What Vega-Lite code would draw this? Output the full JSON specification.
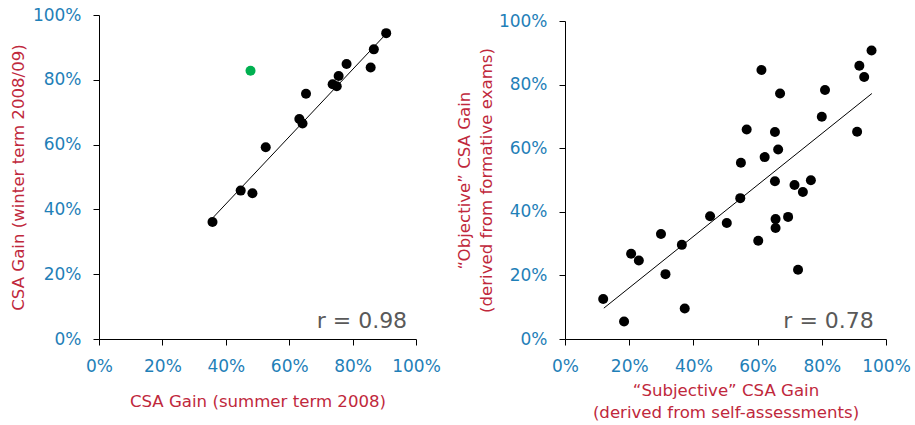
{
  "$schema": "https://vega.github.io/schema/vega-lite/v6.json",
  "padding": {"left": 10, "top": 6, "right": 0, "bottom": 5},
  "spacing": 15,
  "datasets": {
    "left": [
      {"x": 0.358, "y": 0.361, "group": "main"},
      {"x": 0.447, "y": 0.458, "group": "main"},
      {"x": 0.484, "y": 0.450, "group": "main"},
      {"x": 0.526, "y": 0.592, "group": "main"},
      {"x": 0.632, "y": 0.679, "group": "main"},
      {"x": 0.642, "y": 0.665, "group": "main"},
      {"x": 0.653, "y": 0.757, "group": "main"},
      {"x": 0.737, "y": 0.786, "group": "main"},
      {"x": 0.750, "y": 0.780, "group": "main"},
      {"x": 0.756, "y": 0.812, "group": "main"},
      {"x": 0.781, "y": 0.849, "group": "main"},
      {"x": 0.857, "y": 0.838, "group": "main"},
      {"x": 0.867, "y": 0.894, "group": "main"},
      {"x": 0.906, "y": 0.944, "group": "main"},
      {"x": 0.478, "y": 0.828, "group": "outlier"}
    ],
    "leftLine": [
      {"x": 0.360, "y": 0.375},
      {"x": 0.907, "y": 0.943}
    ],
    "right": [
      {"x": 0.119, "y": 0.126},
      {"x": 0.184, "y": 0.055},
      {"x": 0.206, "y": 0.268},
      {"x": 0.230, "y": 0.247},
      {"x": 0.299, "y": 0.330},
      {"x": 0.313, "y": 0.204},
      {"x": 0.364, "y": 0.296},
      {"x": 0.373, "y": 0.096},
      {"x": 0.452, "y": 0.386},
      {"x": 0.504, "y": 0.365},
      {"x": 0.546, "y": 0.443},
      {"x": 0.548, "y": 0.554},
      {"x": 0.566, "y": 0.659},
      {"x": 0.602, "y": 0.309},
      {"x": 0.612, "y": 0.846},
      {"x": 0.622, "y": 0.572},
      {"x": 0.654, "y": 0.651},
      {"x": 0.654, "y": 0.496},
      {"x": 0.656, "y": 0.377},
      {"x": 0.656, "y": 0.349},
      {"x": 0.664, "y": 0.596},
      {"x": 0.670, "y": 0.772},
      {"x": 0.695, "y": 0.384},
      {"x": 0.715, "y": 0.484},
      {"x": 0.726, "y": 0.218},
      {"x": 0.741, "y": 0.462},
      {"x": 0.766, "y": 0.499},
      {"x": 0.800, "y": 0.699},
      {"x": 0.810, "y": 0.783},
      {"x": 0.910, "y": 0.652},
      {"x": 0.917, "y": 0.859},
      {"x": 0.932, "y": 0.824},
      {"x": 0.955, "y": 0.907}
    ],
    "rightLine": [
      {"x": 0.121, "y": 0.097},
      {"x": 0.956, "y": 0.772}
    ]
  },
  "hconcat": [
    {
      "width": 317,
      "height": 324,
      "layer": [
        {
          "data": {"name": "left"},
          "mark": {"type": "circle", "size": 100, "opacity": 1},
          "encoding": {
            "x": {"field": "x", "type": "quantitative", "scale": {"domain": [0, 1]},
                  "axis": {"title": "CSA Gain (summer term 2008)", "format": ".0%", "values": [0, 0.2, 0.4, 0.6, 0.8, 1], "titlePadding": 19}},
            "y": {"field": "y", "type": "quantitative", "scale": {"domain": [0, 1]},
                  "axis": {"title": "CSA Gain (winter term 2008/09)", "format": ".0%", "values": [0, 0.2, 0.4, 0.6, 0.8, 1], "titlePadding": 6}},
            "color": {"field": "group", "type": "nominal",
                      "scale": {"domain": ["main", "outlier"], "range": ["#000000", "#00B050"]}, "legend": null}
          }
        },
        {
          "data": {"name": "leftLine"},
          "mark": {"type": "line", "color": "#000000", "strokeWidth": 1},
          "encoding": {
            "x": {"field": "x", "type": "quantitative"},
            "y": {"field": "y", "type": "quantitative"}
          }
        },
        {
          "data": {"values": [{"x": 0.972, "y": 0.035, "label": "r = 0.98"}]},
          "mark": {"type": "text", "align": "right", "baseline": "alphabetic", "fontSize": 22, "color": "#595959", "font": "DejaVu Sans"},
          "encoding": {
            "x": {"field": "x", "type": "quantitative"},
            "y": {"field": "y", "type": "quantitative"},
            "text": {"field": "label"}
          }
        }
      ]
    },
    {
      "width": 321,
      "height": 324,
      "layer": [
        {
          "data": {"name": "right"},
          "mark": {"type": "circle", "size": 100, "opacity": 1, "color": "#000000"},
          "encoding": {
            "x": {"field": "x", "type": "quantitative", "scale": {"domain": [0, 1]},
                  "axis": {"title": ["“Subjective” CSA Gain", "(derived from self-assessments)"], "format": ".0%", "values": [0, 0.2, 0.4, 0.6, 0.8, 1], "titlePadding": 8, "titleLineHeight": 22}},
            "y": {"field": "y", "type": "quantitative", "scale": {"domain": [0, 1], "range": [324, 6]},
                  "axis": {"title": ["“Objective” CSA Gain", "(derived from formative exams)"], "format": ".0%", "values": [0, 0.2, 0.4, 0.6, 0.8, 1], "titlePadding": 4, "titleLineHeight": 22}}
          }
        },
        {
          "data": {"name": "rightLine"},
          "mark": {"type": "line", "color": "#000000", "strokeWidth": 1},
          "encoding": {
            "x": {"field": "x", "type": "quantitative"},
            "y": {"field": "y", "type": "quantitative"}
          }
        },
        {
          "data": {"values": [{"x": 0.962, "y": 0.035, "label": "r = 0.78"}]},
          "mark": {"type": "text", "align": "right", "baseline": "alphabetic", "fontSize": 22, "color": "#595959", "font": "DejaVu Sans"},
          "encoding": {
            "x": {"field": "x", "type": "quantitative"},
            "y": {"field": "y", "type": "quantitative"},
            "text": {"field": "label"}
          }
        }
      ]
    }
  ],
  "config": {
    "view": {"stroke": null},
    "font": "DejaVu Sans",
    "axis": {
      "grid": false,
      "domainColor": "#000000",
      "domainWidth": 1,
      "tickColor": "#000000",
      "tickSize": 6,
      "labelColor": "#1F80B8",
      "labelFont": "DejaVu Sans",
      "labelFontSize": 17,
      "labelOverlap": false,
      "labelFlush": false,
      "labelBound": false,
      "titleColor": "#C0283C",
      "titleFont": "DejaVu Sans",
      "titleFontSize": 16.6,
      "titleFontWeight": "normal"
    },
    "axisY": {"labelPadding": 12},
    "axisX": {"labelPadding": 13}
  }
}
